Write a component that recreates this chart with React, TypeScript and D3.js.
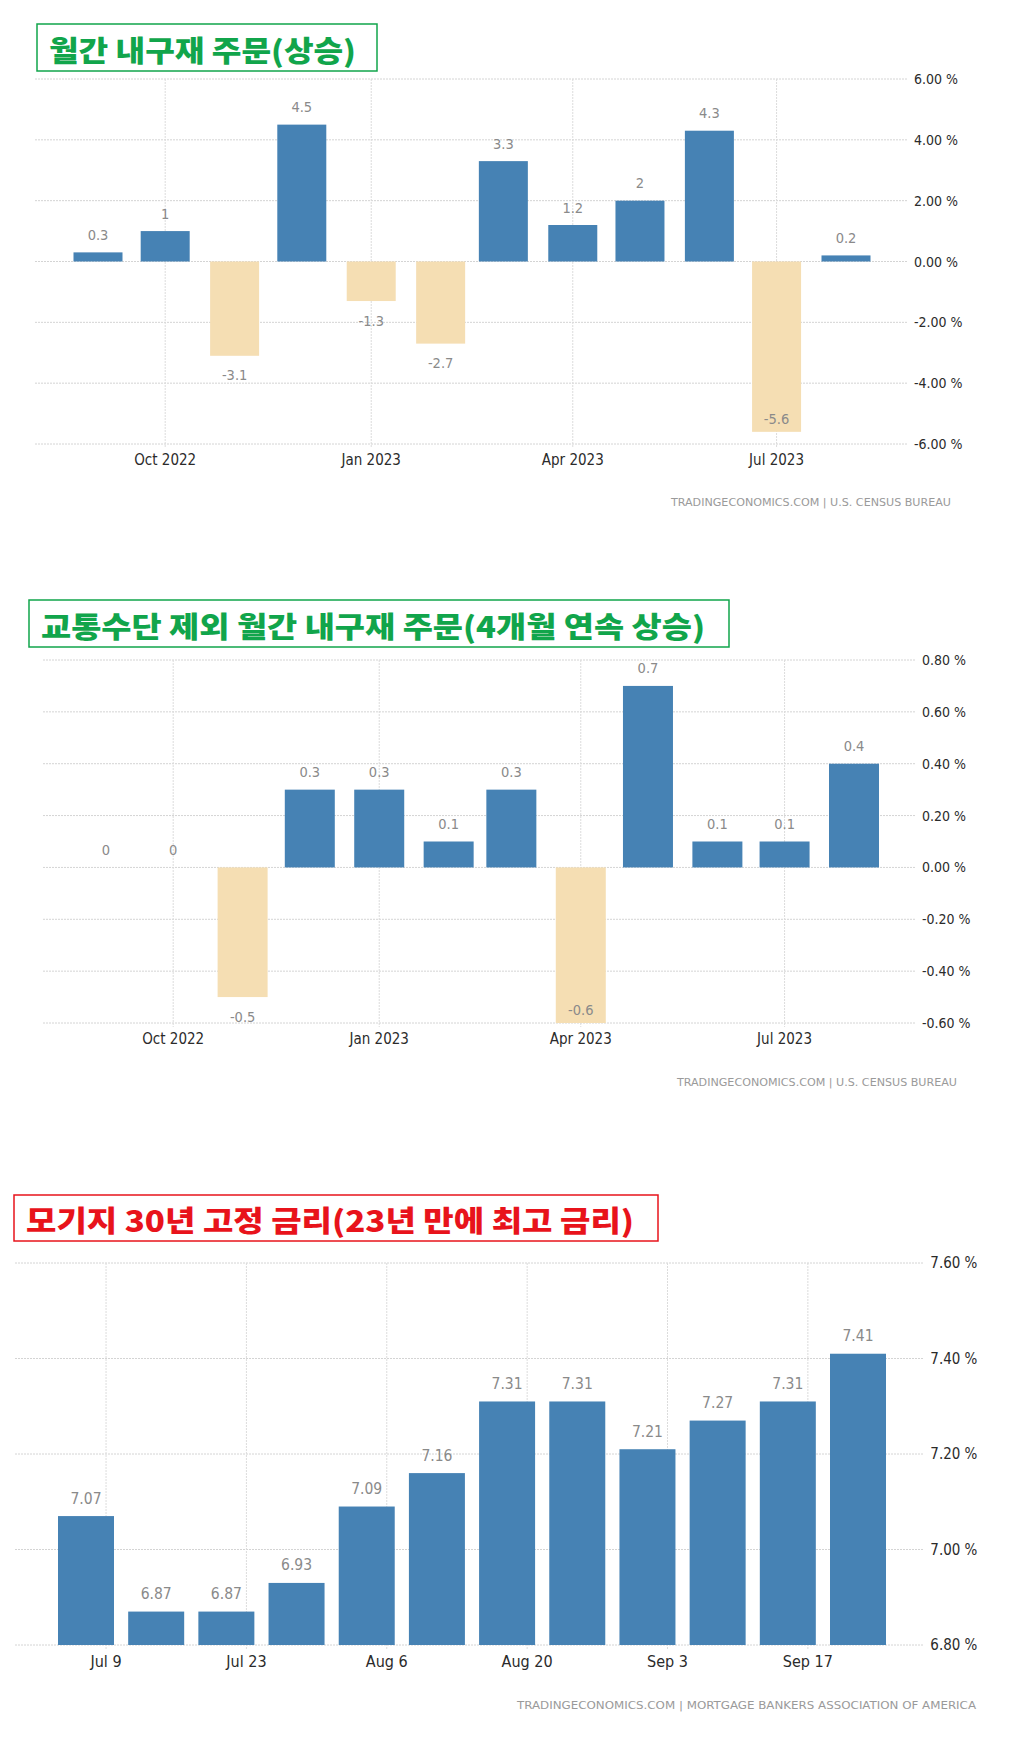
import React from 'react';
import * as d3 from 'd3';

// 월간 내구재 주문 (MoM %)
const orderMonths = ['2022-09-01', '2022-10-01', '2022-11-01', '2022-12-01', '2023-01-01', '2023-02-01',
  '2023-03-01', '2023-04-01', '2023-05-01', '2023-06-01', '2023-07-01', '2023-08-01'];
const durableOrders = [0.3, 1, -3.1, 4.5, -1.3, -2.7, 3.3, 1.2, 2, 4.3, -5.6, 0.2];
const durableTicks = [-6, -4, -2, 0, 2, 4, 6];

// 교통수단 제외
const exTransportOrders = [0, 0, -0.5, 0.3, 0.3, 0.1, 0.3, -0.6, 0.7, 0.1, 0.1, 0.4];
const exTransportTicks = [-0.6, -0.4, -0.2, 0, 0.2, 0.4, 0.6, 0.8];

const monthTicks = ['2022-10-01', '2023-01-01', '2023-04-01', '2023-07-01'];
const monthTickLabels = ['Oct 2022', 'Jan 2023', 'Apr 2023', 'Jul 2023'];

// 모기지 30년 고정 금리
const mortgageWeeks = ['2023-07-07', '2023-07-14', '2023-07-21', '2023-07-28', '2023-08-04', '2023-08-11',
  '2023-08-18', '2023-08-25', '2023-09-01', '2023-09-08', '2023-09-15', '2023-09-22'];
const mortgageRates = [7.07, 6.87, 6.87, 6.93, 7.09, 7.16, 7.31, 7.31, 7.21, 7.27, 7.31, 7.41];
const mortgageTicks = [6.8, 7.0, 7.2, 7.4, 7.6];
const weekTicks = ['2023-07-09', '2023-07-23', '2023-08-06', '2023-08-20', '2023-09-03', '2023-09-17'];
const weekTickLabels = ['Jul 9', 'Jul 23', 'Aug 6', 'Aug 20', 'Sep 3', 'Sep 17'];

const parse = d3.timeParse('%Y-%m-%d');
const FONT = '"DejaVu Sans Condensed", "DejaVu Sans", sans-serif';
const KFONT = '"Noto Sans CJK KR", "Noto Sans", sans-serif';
const BLUE = '#4682b4';
const WHEAT = '#f5deb3';
const GREEN = '#11a54b';
const RED = '#e8131b';

type PanelProps = {
  title: string;
  titleColor: string;
  box: { x: number; y: number; w: number; h: number };
  titleX: number;
  titleLen: number;
  dates: string[];
  values: number[];
  xDomain: [string, string];
  xRange: [number, number];
  left: number;
  right: number;
  top: number;
  bottom: number;
  yTicks: number[];
  xTicks: string[];
  xTickLabels: string[];
  barWidth: number;
  source: string;
  sourceX: number;
  sourceLen: number;
  sourceY: number;
  fontScale: number;
};

function Panel(p: PanelProps) {
  const x = d3.scaleTime()
    .domain([parse(p.xDomain[0])!, parse(p.xDomain[1])!])
    .range(p.xRange);
  const y = d3.scaleLinear()
    .domain([p.yTicks[0], p.yTicks[p.yTicks.length - 1]])
    .range([p.bottom, p.top]);
  const base = y.domain()[0] < 0 ? 0 : y.domain()[0];
  const fmtY = (t: number) => d3.format('.2f')(t).replace('\u2212', '-') + ' %';
  const fs = p.fontScale;

  return (
    <g>
      <rect x={p.box.x} y={p.box.y} width={p.box.w} height={p.box.h}
        fill="#fff" stroke={p.titleColor} strokeWidth={1.5} />
      <text x={p.titleX} y={p.box.y + p.box.h / 2 + 1} dominantBaseline="central"
        textLength={p.titleLen} lengthAdjust="spacingAndGlyphs"
        fill={p.titleColor} fontFamily={KFONT} fontWeight={900} fontSize={29}>
        {p.title}
      </text>

      {/* grid */}
      {p.yTicks.map(t => (
        <line key={'gy' + t} x1={p.left} x2={p.right} y1={y(t)} y2={y(t)}
          stroke="#d4d4d4" strokeDasharray="2,1" />
      ))}
      {p.xTicks.map(t => (
        <line key={'gx' + t} x1={x(parse(t)!)} x2={x(parse(t)!)} y1={p.top} y2={p.bottom + 4}
          stroke="#dcdcdc" strokeDasharray="2,1" />
      ))}

      {/* bars */}
      {p.values.map((v, i) => {
        const cx = x(parse(p.dates[i])!);
        const y0 = y(base);
        const y1 = y(v);
        const neg = v < base;
        return (
          <rect key={'b' + i} x={cx - p.barWidth / 2} width={p.barWidth}
            y={Math.min(y0, y1)} height={Math.abs(y1 - y0)}
            fill={neg ? WHEAT : BLUE} />
        );
      })}

      {/* value labels */}
      {p.values.map((v, i) => {
        const cx = x(parse(p.dates[i])!);
        const y1 = y(v);
        let ly = y1 - 12.5;
        if (v < base) {
          ly = y1 + 24.5;
          if (ly > p.bottom + 2) ly = y1 - 8;
        }
        return (
          <text key={'l' + i} x={cx} y={ly} textAnchor="middle"
            fontFamily={FONT} fontSize={14.5 * fs} fill="#8a8a8a">
            {String(v)}
          </text>
        );
      })}

      {/* axes labels */}
      {p.yTicks.map(t => (
        <text key={'ty' + t} x={p.right + 5 * fs + 2} y={y(t)} dominantBaseline="central"
          fontFamily={FONT} fontSize={14 * fs} fill="#2b2b2b">
          {fmtY(t)}
        </text>
      ))}
      {p.xTicks.map((t, i) => (
        <text key={'tx' + t} x={x(parse(t)!)} y={p.bottom + 16} dominantBaseline="central"
          textAnchor="middle" fontFamily={FONT} fontSize={15 * fs} fill="#2b2b2b">
          {p.xTickLabels[i]}
        </text>
      ))}

      <text x={p.sourceX} y={p.sourceY} dominantBaseline="central"
        textLength={p.sourceLen} lengthAdjust="spacingAndGlyphs"
        fontFamily={FONT} fontSize={11} fill="#9a9a9a">
        {p.source}
      </text>
    </g>
  );
}

export default function App() {
  return (
    <svg width={1030} height={1738} viewBox="0 0 1030 1738"
      style={{ position: 'absolute', left: 0, top: 0, background: '#fff' }}>
      <rect width={1030} height={1738} fill="#fff" />
      <Panel
        title="월간 내구재 주문(상승)" titleColor={GREEN}
        box={{ x: 37, y: 24, w: 340, h: 47 }} titleX={49} titleLen={307}
        dates={orderMonths} values={durableOrders}
        xDomain={['2022-09-01', '2023-08-01']} xRange={[98, 846]}
        left={35} right={907} top={79} bottom={444}
        yTicks={durableTicks} xTicks={monthTicks} xTickLabels={monthTickLabels}
        barWidth={49}
        source="TRADINGECONOMICS.COM  |  U.S.  CENSUS  BUREAU" sourceX={671} sourceLen={280} sourceY={502}
        fontScale={1}
      />
      <Panel
        title="교통수단 제외 월간 내구재 주문(4개월 연속 상승)" titleColor={GREEN}
        box={{ x: 29, y: 600, w: 700, h: 47 }} titleX={41} titleLen={664}
        dates={orderMonths} values={exTransportOrders}
        xDomain={['2022-09-01', '2023-08-01']} xRange={[106, 854]}
        left={43} right={915} top={660} bottom={1023}
        yTicks={exTransportTicks} xTicks={monthTicks} xTickLabels={monthTickLabels}
        barWidth={50}
        source="TRADINGECONOMICS.COM  |  U.S.  CENSUS  BUREAU" sourceX={677} sourceLen={280} sourceY={1082}
        fontScale={1}
      />
      <Panel
        title="모기지 30년 고정 금리(23년 만에 최고 금리)" titleColor={RED}
        box={{ x: 14, y: 1195, w: 644, h: 46 }} titleX={26} titleLen={608}
        dates={mortgageWeeks} values={mortgageRates}
        xDomain={['2023-07-07', '2023-09-22']} xRange={[86, 858]}
        left={15} right={923} top={1263} bottom={1645}
        yTicks={mortgageTicks} xTicks={weekTicks} xTickLabels={weekTickLabels}
        barWidth={56}
        source="TRADINGECONOMICS.COM  |  MORTGAGE  BANKERS  ASSOCIATION  OF  AMERICA" sourceX={517} sourceLen={459} sourceY={1705}
        fontScale={1.07}
      />
    </svg>
  );
}
